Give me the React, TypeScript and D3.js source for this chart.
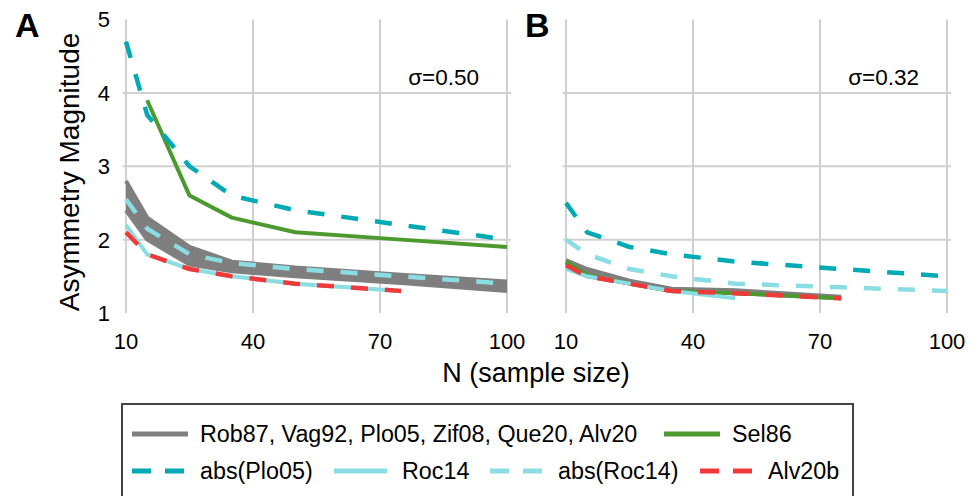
import React from "react";
import * as d3 from "d3";

const N_ALL = [10, 15, 25, 35, 50, 75, 100];
const X_TICKS = [10, 40, 70, 100];
const Y_TICKS = [1, 2, 3, 4, 5];
const Y_GRID = [2, 3, 4];

// Panel A (sigma = 0.50)
const grayUpperA = [2.8, 2.3, 1.9, 1.7, 1.62, 1.52, 1.43];
const grayLowerA = [2.4, 2.0, 1.66, 1.57, 1.5, 1.41, 1.3];
const sel86A_N = [15, 25, 35, 50, 75, 100];
const sel86A = [3.9, 2.6, 2.3, 2.1, 2.0, 1.9];
const absPlo05A = [4.7, 3.7, 3.0, 2.6, 2.4, 2.2, 2.0];
const roc14A_N = [10, 15, 25, 35, 50, 75];
const roc14A = [2.2, 1.8, 1.6, 1.5, 1.4, 1.3];
const absRoc14A = [2.55, 2.15, 1.8, 1.68, 1.6, 1.5, 1.4];
const alv20bA_N = [10, 15, 25, 35, 50, 75];
const alv20bA = [2.1, 1.8, 1.6, 1.5, 1.4, 1.3];

// Panel B (sigma = 0.32)
const grayB_N = [10, 15, 25, 35, 50, 75];
const grayUpperB = [1.72, 1.6, 1.44, 1.33, 1.31, 1.22];
const grayLowerB = [1.68, 1.5, 1.4, 1.3, 1.27, 1.2];
const sel86B_N = [10, 15, 25, 35, 50, 75];
const sel86B = [1.7, 1.52, 1.4, 1.3, 1.27, 1.2];
const absPlo05B = [2.5, 2.1, 1.9, 1.8, 1.7, 1.6, 1.5];
const roc14B_N = [10, 15, 25, 35, 50];
const roc14B = [1.6, 1.5, 1.4, 1.3, 1.2];
const absRoc14B = [2.0, 1.8, 1.6, 1.5, 1.4, 1.35, 1.3];
const alv20bB_N = [10, 15, 25, 35, 50, 75];
const alv20bB = [1.65, 1.5, 1.4, 1.3, 1.27, 1.2];

const PANEL_LABELS = ["A", "B"];
const SIGMA_LABELS = ["σ=0.50", "σ=0.32"];

const C_GRAY = "#7f7f7f";
const C_GREEN = "#4c9a2f";
const C_TEAL = "#00aab4";
const C_LIGHT = "#8adde3";
const C_RED = "#ee3a3a";
const FONT = "'Liberation Sans', Arial, sans-serif";
const DASH = "17,17";

const y = d3.scaleLinear().domain([1, 5]).range([313, 19.5]);

type Pt = [number, number];
const zip = (ns: number[], vs: number[]): Pt[] => ns.map((n, i) => [n, vs[i]]);

function Panel({ x, idx, data }: { x: d3.ScaleLinear<number, number>; idx: number; data: any }) {
  const line = d3
    .line<Pt>()
    .x((d) => x(d[0]))
    .y((d) => y(d[1]));
  const area = d3
    .area<[number, number, number]>()
    .x((d) => x(d[0]))
    .y0((d) => y(d[1]))
    .y1((d) => y(d[2]));
  const [x0, x1] = x.range();
  const bandPts: [number, number, number][] = data.grayN.map((n: number, i: number) => [
    n,
    data.grayLower[i],
    data.grayUpper[i],
  ]);
  return (
    <g>
      {Y_GRID.map((v) => (
        <line key={"h" + v} x1={x0 - 3} x2={x1 + 4} y1={y(v)} y2={y(v)} stroke="#d0d0d0" strokeWidth={2} />
      ))}
      {X_TICKS.map((v) => (
        <line key={"v" + v} x1={x(v)} x2={x(v)} y1={y(5)} y2={y(1)} stroke="#d0d0d0" strokeWidth={2} />
      ))}
      <path d={area(bandPts) || ""} fill={C_GRAY} />
      <path d={line(zip(data.grayN, data.grayUpper)) || ""} fill="none" stroke={C_GRAY} strokeWidth={4} strokeLinejoin="round" />
      <path d={line(zip(data.grayN, data.grayLower)) || ""} fill="none" stroke={C_GRAY} strokeWidth={4} strokeLinejoin="round" />
      <path d={line(zip(data.selN, data.sel)) || ""} fill="none" stroke={C_GREEN} strokeWidth={4} strokeLinejoin="round" />
      <path d={line(zip(N_ALL, data.absPlo)) || ""} fill="none" stroke={C_TEAL} strokeWidth={4.5} strokeDasharray={DASH} />
      <path d={line(zip(data.rocN, data.roc)) || ""} fill="none" stroke={C_LIGHT} strokeWidth={4} strokeLinejoin="round" />
      <path d={line(zip(N_ALL, data.absRoc)) || ""} fill="none" stroke={C_LIGHT} strokeWidth={4.5} strokeDasharray={DASH} />
      <path d={line(zip(data.alvN, data.alv)) || ""} fill="none" stroke={C_RED} strokeWidth={4.5} strokeDasharray={DASH} />
      {X_TICKS.map((v) => (
        <text key={"xt" + v} x={x(v)} y={349} textAnchor="middle" fontSize={22} fontFamily={FONT} fill="#000">
          {v}
        </text>
      ))}
      <text x={x1 - 28} y={85} textAnchor="end" fontSize={22.5} fontFamily={FONT} fill="#000">
        {SIGMA_LABELS[idx]}
      </text>
    </g>
  );
}

export default function App() {
  const xA = d3.scaleLinear().domain([10, 100]).range([126, 507]);
  const xB = d3.scaleLinear().domain([10, 100]).range([566, 947]);
  const dataA = {
    grayN: N_ALL,
    grayUpper: grayUpperA,
    grayLower: grayLowerA,
    selN: sel86A_N,
    sel: sel86A,
    absPlo: absPlo05A,
    rocN: roc14A_N,
    roc: roc14A,
    absRoc: absRoc14A,
    alvN: alv20bA_N,
    alv: alv20bA,
  };
  const dataB = {
    grayN: grayB_N,
    grayUpper: grayUpperB,
    grayLower: grayLowerB,
    selN: sel86B_N,
    sel: sel86B,
    absPlo: absPlo05B,
    rocN: roc14B_N,
    roc: roc14B,
    absRoc: absRoc14B,
    alvN: alv20bB_N,
    alv: alv20bB,
  };

  const legendRow1 = [
    { x: 132, label: "Rob87, Vag92, Plo05, Zif08, Que20, Alv20", color: C_GRAY, dash: null },
    { x: 664, label: "Sel86", color: C_GREEN, dash: null },
  ];
  const legendRow2 = [
    { x: 132, label: "abs(Plo05)", color: C_TEAL, dash: "19,14" },
    { x: 334, label: "Roc14", color: C_LIGHT, dash: null },
    { x: 490, label: "abs(Roc14)", color: C_LIGHT, dash: "19,14" },
    { x: 700, label: "Alv20b", color: C_RED, dash: "19,14" },
  ];

  return (
    <svg width={979} height={496} style={{ position: "absolute", left: 0, top: 0, background: "#fff" }}>
      <rect x={0} y={0} width={979} height={496} fill="#fff" />
      <Panel x={xA} idx={0} data={dataA} />
      <Panel x={xB} idx={1} data={dataB} />
      {Y_TICKS.map((v) => (
        <text key={"yt" + v} x={110} y={y(v)} dy="0.36em" textAnchor="end" fontSize={22} fontFamily={FONT} fill="#000">
          {v}
        </text>
      ))}
      <text x={15} y={37} fontSize={34} fontWeight="bold" fontFamily={FONT} fill="#000">
        {PANEL_LABELS[0]}
      </text>
      <text x={525} y={37} fontSize={34} fontWeight="bold" fontFamily={FONT} fill="#000">
        {PANEL_LABELS[1]}
      </text>
      <text transform="translate(79,172) rotate(-90)" textAnchor="middle" fontSize={28} fontFamily={FONT} fill="#000">
        Asymmetry Magnitude
      </text>
      <text x={536} y={382} textAnchor="middle" fontSize={27} fontFamily={FONT} fill="#000">
        N (sample size)
      </text>
      <rect x={122} y={404} width={731} height={110} fill="#fff" stroke="#444" strokeWidth={2} />
      {legendRow1.map((it) => (
        <g key={it.label}>
          <line x1={it.x} x2={it.x + 56} y1={434} y2={434} stroke={it.color} strokeWidth={5} />
          <text x={it.x + 68} y={434} dy="0.36em" fontSize={23.3} fontFamily={FONT} fill="#000">
            {it.label}
          </text>
        </g>
      ))}
      {legendRow2.map((it) => (
        <g key={it.label}>
          <line
            x1={it.x}
            x2={it.x + 53}
            y1={471}
            y2={471}
            stroke={it.color}
            strokeWidth={5}
            strokeDasharray={it.dash || undefined}
          />
          <text x={it.x + 68} y={471} dy="0.36em" fontSize={23.3} fontFamily={FONT} fill="#000">
            {it.label}
          </text>
        </g>
      ))}
    </svg>
  );
}
